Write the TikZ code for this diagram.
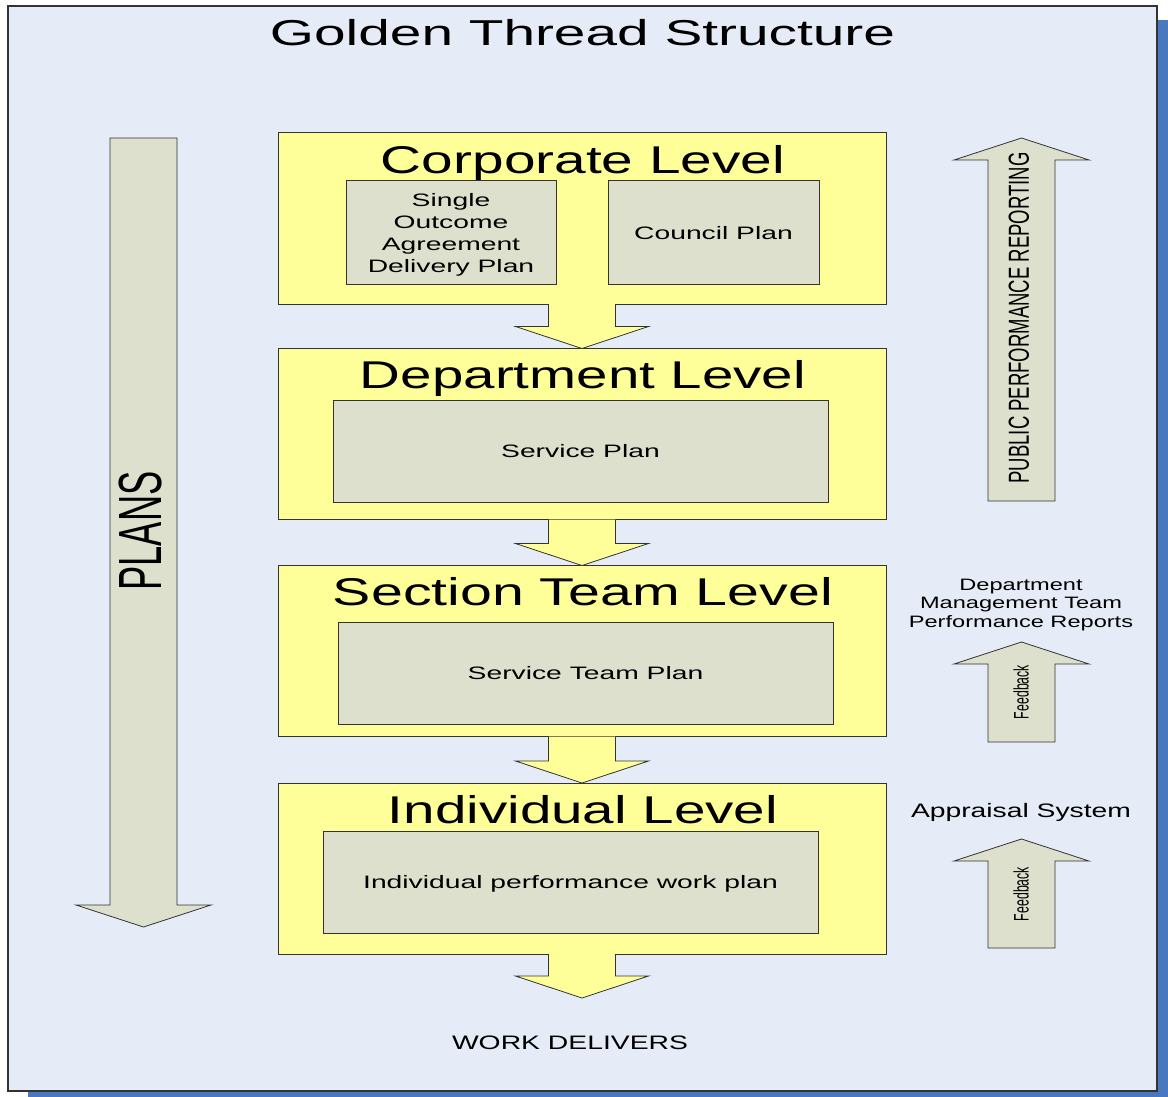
\documentclass[tikz,border=0pt]{standalone}
\usepackage{fontspec}
\setmainfont{Liberation Sans}
\usepackage{graphicx}
\usetikzlibrary{calc}
\definecolor{panelbg}{HTML}{E6ECF7}
\definecolor{shadowblue}{HTML}{4878C0}
\definecolor{lvlyellow}{HTML}{FFFF99}
\definecolor{plangray}{HTML}{DDE0CC}
\definecolor{edgegray}{HTML}{333333}
\newcommand\bx[1]{\scalebox{1.57}[1]{\fontsize{18}{22}\selectfont #1}}
\newcommand\hdr[2]{\resizebox{#1}{\height}{\fontsize{38.7}{40}\selectfont #2}}
\newcommand\blockdown[2]{%
  \draw[yarrow] ($(#1)+(-33.5,0)$) -- ($(#2)+(-33.5,-22)$) -- ($(#2)+(-66.5,-22)$)
    -- (#2) -- ($(#2)+(66.5,-22)$) -- ($(#2)+(33.5,-22)$) -- ($(#1)+(33.5,0)$);}
\tikzset{
  lvlbox/.style={draw=edgegray, fill=lvlyellow, line width=1pt, inner sep=0pt, outer sep=0pt,
    minimum width=608pt, minimum height=171pt},
  planbox/.style={draw=edgegray, fill=plangray, line width=1pt, inner sep=0pt, outer sep=0pt,
    text depth=0pt},
  yarrow/.style={draw=edgegray, fill=lvlyellow, line width=0.8pt, line join=miter},
  garrow/.style={draw=edgegray, fill=plangray, line width=0.8pt, line join=miter},
  lbl/.style={inner sep=0pt, outer sep=0pt, anchor=base},
  vlbl/.style={inner sep=0pt, outer sep=0pt, anchor=center, rotate=90},
}
\begin{document}
\begin{tikzpicture}[x=1pt,y=-1pt]
\useasboundingbox (0,0) rectangle (1168,1097);
\fill[white] (0,0) rectangle (1168,1097);
% panel with shadow
\fill[shadowblue] (28,20) rectangle (1168,1097);
\draw[edgegray, fill=panelbg, line width=1.5pt] (8,6) rectangle (1157,1091);

% title
\node[lbl] (title) at (582.5,46) {\resizebox{625pt}{\height}{\fontsize{36}{36}\selectfont Golden Thread Structure}};

% PLANS arrow
\draw[garrow] (110,138) -- (177,138) -- (177,905) -- (211,905) -- (143.5,927) -- (76,905) -- (110,905) -- cycle;
\node[vlbl] (plans) at (140,531) {\resizebox{119pt}{\height}{\fontsize{61}{61}\selectfont PLANS}};

% level boxes
\node[lvlbox] (corp) at (582,218.5) {};
\node[lvlbox] (dept) at (582,434) {};
\node[lvlbox] (sect) at (582,651) {};
\node[lvlbox] (indiv) at (582,868.5) {};

\node[lbl] (corpt) at ($(corp.north)+(1,40)$) {\hdr{404pt}{Corporate Level}};
\node[lbl] (deptt) at ($(dept.north)+(1,40)$) {\hdr{446pt}{Department Level}};
\node[lbl] (sectt) at ($(sect.north)+(1,40)$) {\hdr{500pt}{Section Team Level}};
\node[lbl] (indivt) at ($(indiv.north)+(1,40)$) {\hdr{390pt}{Individual Level}};

% plan boxes
\node[planbox, minimum width=210pt, minimum height=103pt] (soa) at (451,232.5) {};
\node[inner sep=0pt] (soat) at (451,235) {\bx{\begin{tabular}{@{}c@{}}Single\\Outcome\\Agreement\\Delivery Plan\end{tabular}}};
\node[planbox, minimum width=211pt, minimum height=103pt] (council) at (713.5,232.5) {\bx{Council Plan}};
\node[planbox, minimum width=495pt, minimum height=102pt] (service) at (580.5,451) {\bx{Service Plan}};
\node[planbox, minimum width=495pt, minimum height=102pt] (steam) at (585.5,673) {\bx{Service Team Plan}};
\node[planbox, minimum width=495pt, minimum height=102pt] (iperf) at (570.5,882) {\bx{Individual performance work plan}};

% down arrows between levels
\coordinate (wdtip) at (582,998);
\blockdown{corp.south}{dept.north}
\blockdown{dept.south}{sect.north}
\blockdown{sect.south}{indiv.north}
\blockdown{indiv.south}{wdtip}
\node[lbl] (work) at (570,1049) {\resizebox{236pt}{\height}{\fontsize{19.5}{20}\selectfont WORK DELIVERS}};

% public performance reporting arrow
\draw[garrow] (988,501) -- (1055,501) -- (1055,160) -- (1089,160) -- (1021.5,138) -- (954,160) -- (988,160) -- cycle;
\node[vlbl] (ppr) at (1019,318) {\resizebox{331pt}{\height}{\fontsize{29}{29}\selectfont PUBLIC PERFORMANCE REPORTING}};

% department management team reports
\node[inner sep=0pt] (dmt) at (1021,604.8) {\scalebox{1.43}[1]{\fontsize{16.5}{18.5}\selectfont\begin{tabular}{@{}c@{}}Department\\Management Team\\Performance Reports\end{tabular}}};
\draw[garrow] (988,742) -- (1055,742) -- (1055,664) -- (1089,664) -- (1021.5,642) -- (954,664) -- (988,664) -- cycle;
\node[vlbl] (fb1) at (1021,692) {\resizebox{54pt}{\height}{\fontsize{21}{21}\selectfont Feedback}};

% appraisal system
\node[lbl] (appr) at (1021,817) {\resizebox{220pt}{\height}{\fontsize{19.5}{20}\selectfont Appraisal System}};
\draw[garrow] (988,948) -- (1055,948) -- (1055,861) -- (1089,861) -- (1021.5,839) -- (954,861) -- (988,861) -- cycle;
\node[vlbl] (fb2) at (1021,894) {\resizebox{54pt}{\height}{\fontsize{21}{21}\selectfont Feedback}};
\end{tikzpicture}
\end{document}
